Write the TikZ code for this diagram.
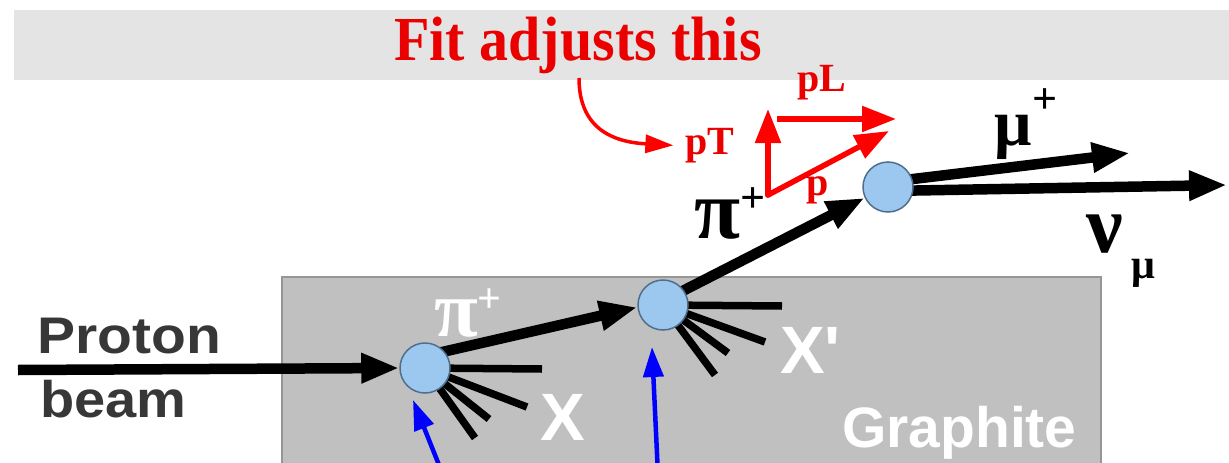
\documentclass[tikz,border=0pt]{standalone}
\usepackage{fontspec}
\setmainfont{Liberation Serif}
\setsansfont{Liberation Sans}
\usetikzlibrary{arrows.meta,calc}
\definecolor{banner}{RGB}{228,228,228}
\definecolor{graphite}{RGB}{192,192,192}
\definecolor{graphiteedge}{RGB}{150,150,150}
\definecolor{vfill}{RGB}{156,200,240}
\definecolor{vedge}{RGB}{80,110,140}
\definecolor{fitred}{RGB}{235,0,0}
\definecolor{protongray}{RGB}{55,55,55}
\pgfdeclarelayer{back}
\pgfdeclarelayer{mid}
\pgfsetlayers{back,mid,main}
\tikzset{
  vertex/.style={circle, fill=vfill, draw=vedge, line width=1.5pt, minimum size=50pt, inner sep=0pt},
  beamarrow/.style={line width=10.5pt, -{Triangle[length=38pt,width=28pt]}},
  spray/.style={line width=7.5pt},
  bluearrow/.style={draw=blue, line width=4.5pt, -{Triangle[length=30pt,width=20pt]}},
  vecarrow/.style={draw=red, line width=5.5pt, -{Triangle[length=34pt,width=25pt]}},
  curvearrow/.style={draw=red, line width=3.5pt, -{Triangle[length=28pt,width=18pt]}},
  sanslabel/.style={font=\sffamily\bfseries\fontsize{50}{50}\selectfont, inner sep=0pt},
  redlabel/.style={text=fitred, font=\bfseries\fontsize{40}{40}\selectfont, inner sep=0pt},
  greek/.style={font=\bfseries, inner sep=0pt}
}
\begin{document}
\begin{tikzpicture}[x=1pt,y=-1pt]
\useasboundingbox (0,0) rectangle (1229,463);
% background shapes
\begin{pgfonlayer}{back}
\fill[banner] (14,10) rectangle (1229,80);
\draw[fill=graphite, draw=graphiteedge, line width=1.5pt] (282,277) rectangle (1101,475);
\end{pgfonlayer}
% title
\node[text=fitred, font=\bfseries\fontsize{58}{58}\selectfont, anchor=base, inner sep=0pt] (title) at (578,60) {\scalebox{1}[1.08]{Fit adjusts this}};
% vertices
\node[vertex] (v1) at (425,368) {};
\node[vertex] (v2) at (663,305) {};
\node[vertex] (v3) at (888,187) {};
% proton beam
\coordinate (pstart) at (18,370);
\draw[beamarrow] (pstart) -- (v1.west);
\node[sanslabel, text=protongray, anchor=base west] (proton) at (37,353) {\scalebox{1.14}[1.03]{Proton}};
\node[sanslabel, text=protongray, anchor=base west] (beam) at (40,417) {\scalebox{1.12}[1.03]{beam}};
% spray lines
\coordinate (x1a) at (542,369);
\coordinate (x1b) at (527,407);
\coordinate (x1c) at (489,419);
\coordinate (x1d) at (475,438);
\coordinate (x2a) at (782,306);
\coordinate (x2b) at (765,342);
\coordinate (x2c) at (728,353);
\coordinate (x2d) at (715,375);
\begin{pgfonlayer}{mid}
\draw[spray] (v1.center) -- (x1a);
\draw[spray] (v1.center) -- (x1b);
\draw[spray] (v1.center) -- (x1c);
\draw[spray] (v1.center) -- (x1d);
\draw[spray] (v2.center) -- (x2a);
\draw[spray] (v2.center) -- (x2b);
\draw[spray] (v2.center) -- (x2c);
\draw[spray] (v2.center) -- (x2d);
\end{pgfonlayer}
% pion arrows
\begin{pgfonlayer}{mid}
\draw[beamarrow] ($(v1.40)!-8pt!(v2.185)$) -- (v2.185);
\draw[beamarrow] ($(v2.35)!-8pt!(v3.205)$) -- (v3.205);
\end{pgfonlayer}
% muon and neutrino
\coordinate (mutip) at (1130,153);
\coordinate (nutip) at (1227,185);
\begin{pgfonlayer}{mid}
\draw[beamarrow] ($(v3.center)+(0,-5)$) -- (mutip);
\draw[beamarrow] ($(v3.center)+(0,4)$) -- (nutip);
\end{pgfonlayer}
% labels on particles
\node[greek, text=white, anchor=center] (pi1) at (468,313) {\fontsize{80}{80}\selectfont π\raisebox{24pt}{\fontsize{42}{42}\selectfont +}};
\node[sanslabel, text=white, font=\sffamily\bfseries\fontsize{67}{67}\selectfont] (xlab) at (563,417) {X};
\node[sanslabel, text=white, font=\sffamily\bfseries\fontsize{67}{67}\selectfont, anchor=west] (xplab) at (780,350) {X\textquotesingle};
\node[sanslabel, text=white, font=\sffamily\bfseries\fontsize{57}{57}\selectfont, anchor=base west] (graphitelab) at (842,447) {Graphite};
\node[greek, text=black, anchor=center] (pi2) at (730,213) {\fontsize{84}{84}\selectfont π\raisebox{26pt}{\fontsize{44}{44}\selectfont +}};
\node[greek, text=black, anchor=center] (mulab) at (1026,124) {\fontsize{66}{66}\selectfont μ\raisebox{32pt}{\fontsize{44}{44}\selectfont +}};
\node[greek, text=black, anchor=center] (nulab) at (1105,234) {\fontsize{82}{82}\selectfont ν};
\node[greek, text=black, anchor=center] (nusub) at (1143,273) {\fontsize{42}{42}\selectfont μ};
% blue arrows
\coordinate (b1s) at (443,475);
\coordinate (b1e) at (413,400);
\coordinate (b2s) at (658,475);
\coordinate (b2e) at (652,347);
\draw[bluearrow] (b1s) -- (b1e);
\draw[bluearrow] (b2s) -- (b2e);
% red vectors
\coordinate (o) at (768,195);
\coordinate (ptip) at (768,109);
\coordinate (plstart) at (777,119);
\coordinate (pltip) at (896,119);
\coordinate (pvtip) at (889,131);
\draw[vecarrow, line cap=round] (o) -- (ptip);
\draw[vecarrow] (plstart) -- (pltip);
\draw[vecarrow, line cap=round] (o) -- (pvtip);
\node[redlabel] (pT) at (710,146) {pT};
\node[redlabel] (pL) at (822,83) {pL};
\node[redlabel] (plab) at (818,190) {p};
% curved arrow
\coordinate (cstart) at (579,78);
\draw[curvearrow, shorten >=12pt] (cstart) .. controls (579,128) and (612,142) .. (pT.west);
\end{tikzpicture}
\end{document}
